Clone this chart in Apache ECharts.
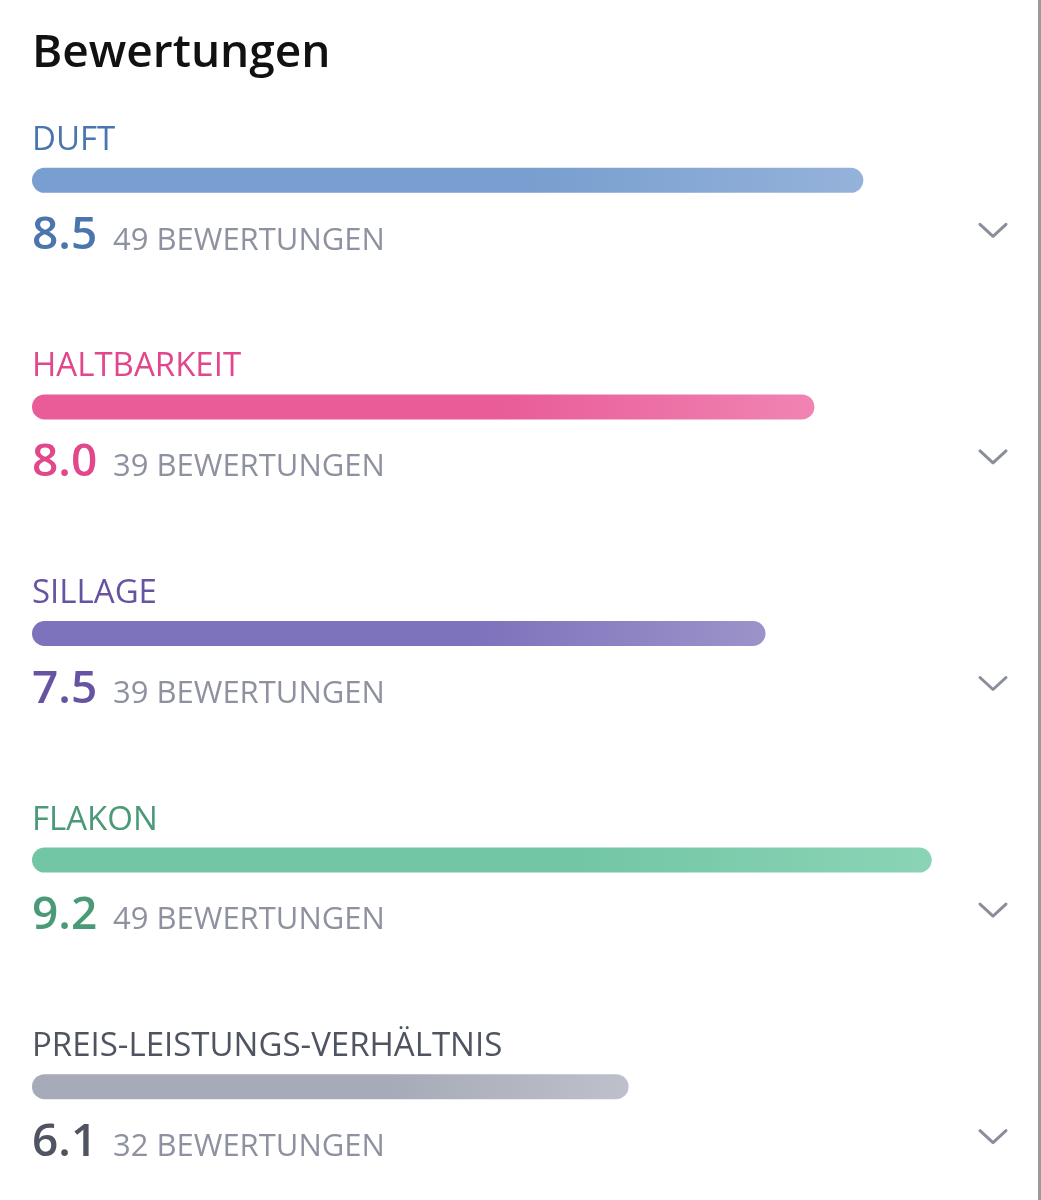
<!DOCTYPE html>
<html>
<head>
<meta charset="utf-8">
<title>Bewertungen</title>
<script src="https://cdn.jsdelivr.net/npm/echarts@6/dist/echarts.min.js"></script>
<style>
  html, body { margin: 0; padding: 0; background: #fff; }
  #chart { width: 1041px; height: 1200px; }
</style>
</head>
<body>
<div id="chart"></div>
<script>
// Daten
var categories = ['DUFT', 'HALTBARKEIT', 'SILLAGE', 'FLAKON', 'PREIS-LEISTUNGS-VERHÄLTNIS'];
var scores = [8.5, 8.0, 7.5, 9.2, 6.1];
var counts = [49, 39, 39, 49, 32];
var countSuffix = 'BEWERTUNGEN';

// Farben je Zeile: Text, Balken Start, Balken Ende
var textColors = ['#4a75ad', '#e2478c', '#6654a2', '#4a9977', '#4e5460'];
var barFrom = ['#789fcf', '#e95c98', '#7d72bc', '#72c6a5', '#a7aab8'];
var barTo = ['#95b2da', '#f084b2', '#9c93ca', '#8bd4b6', '#bec1cb'];

var chart = echarts.init(document.getElementById('chart'));

var font = '"Open Sans", "Noto Sans", sans-serif';

function renderItem(params, api) {
  var idx = api.value(1);
  var v = api.value(0);
  var start = api.coord([0, idx]);
  var end = api.coord([v, idx]);
  var full = api.coord([10, idx]);
  var h = 25;
  var cy = start[1];
  var x0 = start[0];
  return {
    type: 'group',
    children: [
      {
        type: 'rect',
        shape: { x: x0, y: cy - h / 2, width: end[0] - x0, height: h, r: h / 2 },
        style: {
          fill: new echarts.graphic.LinearGradient(0, 0, 1, 0, [
            { offset: 0, color: barFrom[idx] },
            { offset: 0.6, color: barFrom[idx] },
            { offset: 1, color: barTo[idx] }
          ])
        }
      },
      {
        type: 'text',
        style: {
          x: x0, y: cy - 40,
          text: categories[idx],
          fill: textColors[idx],
          font: '400 33px ' + font,
          verticalAlign: 'middle', align: 'left'
        }
      },
      {
        type: 'text',
        style: {
          x: x0, y: cy + 79,
          text: v.toFixed(1),
          fill: textColors[idx],
          font: '600 46px ' + font,
          verticalAlign: 'bottom', align: 'left'
        }
      },
      {
        type: 'text',
        style: {
          x: x0 + 81, y: cy + 76,
          text: counts[idx] + ' ' + countSuffix,
          fill: '#8e92a0',
          font: '400 31px ' + font,
          verticalAlign: 'bottom', align: 'left'
        }
      },
      {
        type: 'polyline',
        shape: { points: [[full[0] - 30, cy + 44], [full[0] - 17, cy + 56], [full[0] - 4, cy + 44]] },
        style: { stroke: '#8a8e9a', lineWidth: 3, fill: null, lineCap: 'round', lineJoin: 'round' }
      }
    ]
  };
}

var option = {
  backgroundColor: '#fff',
  animation: false,
  title: {
    text: 'Bewertungen',
    left: 27,
    top: 26,
    textStyle: { fontFamily: font, fontSize: 46, fontWeight: 600, color: '#111' }
  },
  graphic: [
    { type: 'rect', right: 0, top: 0, shape: { width: 3, height: 1200 }, style: { fill: '#9a9a9a' } }
  ],
  grid: { left: 32, right: 31, top: 67, bottom: -6 },
  xAxis: { type: 'value', min: 0, max: 10, show: false },
  yAxis: { type: 'category', data: categories, inverse: true, show: false },
  series: [
    {
      type: 'custom',
      renderItem: renderItem,
      encode: { x: 0, y: 1 },
      data: scores.map(function (s, i) { return [s, i]; })
    }
  ]
};

chart.setOption(option);
</script>
</body>
</html>
